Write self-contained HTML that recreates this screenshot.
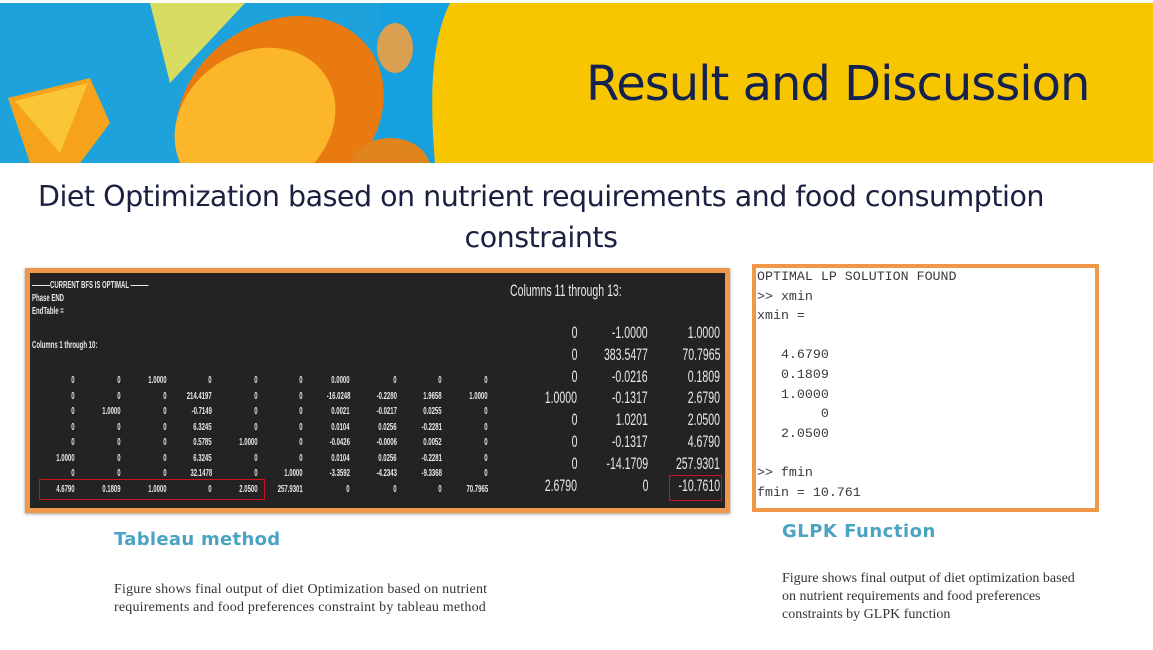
<!DOCTYPE html>
<html><head><meta charset="utf-8"><style>
*{margin:0;padding:0;box-sizing:border-box}
body{width:1153px;height:650px;background:#fff;position:relative;overflow:hidden;font-family:"Liberation Sans",sans-serif}
.abs{position:absolute}
.t{position:absolute;color:#e8e8e8;font-family:"Liberation Sans",sans-serif;white-space:nowrap;transform-origin:right center}
.small{font-size:10px;font-weight:bold;transform:scaleX(.6)}
.big{font-size:17px;transform:scaleX(.62)}
.g{position:absolute;left:757px;font-family:"Liberation Mono",monospace;font-size:13.3px;color:#3a3a3a;white-space:pre}
</style></head><body>
<div class="abs" style="left:0;top:3px;width:1153px;height:160px;background:#f8c600;overflow:hidden">
  <svg width="1153" height="160">
    <path d="M0 0 H445 C425 40 425 100 430 160 H0 Z" fill="#1ea2dc"/>
    <path d="M380 0 H450 C430 40 430 100 435 160 H380 Z" fill="#16a0e0"/>
    <path d="M150 0 H245 L170 80 Z" fill="#d8dc60"/>
    <path d="M8 95 L90 75 L110 120 L80 160 L30 160 Z" fill="#f6a21a"/>
    <path d="M15 98 L88 80 L60 150 Z" fill="#fbc636"/>
    <ellipse cx="280" cy="110" rx="110" ry="90" transform="rotate(-35 280 110)" fill="#e87a10"/>
    <ellipse cx="255" cy="120" rx="85" ry="70" transform="rotate(-35 255 120)" fill="#fbb62a"/>
    <ellipse cx="390" cy="165" rx="40" ry="30" fill="#e0841c"/>
    <ellipse cx="395" cy="45" rx="18" ry="25" fill="#d8a050"/>
  </svg>
  <div class="abs" style="left:586px;top:53px;font-size:48px;color:#14224f;font-family:'DejaVu Sans','Liberation Sans',sans-serif;letter-spacing:-1px">Result and Discussion</div>
</div>
<div class="abs" style="left:0px;top:176px;width:1082px;text-align:center;font-size:28.5px;line-height:41px;color:#1a2140;font-family:'DejaVu Sans','Liberation Sans',sans-serif;letter-spacing:-.5px">Diet Optimization based on nutrient requirements and food consumption<br>constraints</div>

<div class="abs" id="tab" style="left:25px;top:268px;width:705px;height:245px;background:#232323;border:5px solid #f0974a;box-shadow:0 1px 3px #999"></div>

<div class="abs" style="left:752px;top:264px;width:347px;height:248px;background:#fff;border:4px solid #f0974a"></div>
<div class="g" style="top:269px">OPTIMAL LP SOLUTION FOUND</div>
<div class="g" style="top:289px">&gt;&gt; xmin</div>
<div class="g" style="top:308px">xmin =</div>
<div class="g" style="top:347px">   4.6790</div>
<div class="g" style="top:367px">   0.1809</div>
<div class="g" style="top:387px">   1.0000</div>
<div class="g" style="top:406px">        0</div>
<div class="g" style="top:426px">   2.0500</div>
<div class="g" style="top:465px">&gt;&gt; fmin</div>
<div class="g" style="top:485px">fmin = 10.761</div>

<div class="abs" style="left:114px;top:529px;font-size:18px;font-weight:bold;color:#4ba3c3;font-family:'DejaVu Sans',sans-serif;letter-spacing:.3px">Tableau method</div>
<div class="abs" style="left:782px;top:521px;font-size:18px;font-weight:bold;color:#4ba3c3;font-family:'DejaVu Sans',sans-serif;letter-spacing:.5px">GLPK Function</div>
<div class="abs" style="left:114px;top:581px;font-size:14px;line-height:18px;color:#333;font-family:'Liberation Serif',serif;letter-spacing:.2px">Figure shows final output of diet Optimization based on nutrient<br>requirements and food preferences constraint by tableau method</div>
<div class="abs" style="left:782px;top:570px;font-size:14px;line-height:18px;color:#333;font-family:'Liberation Serif',serif">Figure shows final output of diet optimization based<br>on nutrient requirements and food preferences<br>constraints by GLPK function</div>

<div class="abs" style="left:39px;top:479px;width:226px;height:21px;border:1.5px solid #d0101a"></div>
<div class="abs" style="left:669px;top:475px;width:53px;height:26px;border:1.5px solid #d0101a"></div>

<script>
const leftRows=[
["0","0","1.0000","0","0","0","0.0000","0","0","0"],
["0","0","0","214.4197","0","0","-16.0248","-0.2280","1.9658","1.0000"],
["0","1.0000","0","-0.7149","0","0","0.0021","-0.0217","0.0255","0"],
["0","0","0","6.3245","0","0","0.0104","0.0256","-0.2281","0"],
["0","0","0","0.5785","1.0000","0","-0.0426","-0.0006","0.0052","0"],
["1.0000","0","0","6.3245","0","0","0.0104","0.0256","-0.2281","0"],
["0","0","0","32.1478","0","1.0000","-3.3592","-4.2343","-9.3368","0"],
["4.6790","0.1809","1.0000","0","2.0500","257.9301","0","0","0","70.7965"]];
const rightRows=[
["0","-1.0000","1.0000"],["0","383.5477","70.7965"],["0","-0.0216","0.1809"],["1.0000","-0.1317","2.6790"],
["0","1.0201","2.0500"],["0","-0.1317","4.6790"],["0","-14.1709","257.9301"],["2.6790","0","-10.7610"]];
const leftX=[75,121,167,212,258,303,350,397,442,488];
const rightX=[577,648,720];
function put(txt,right,cy,cls,h){
  const d=document.createElement('div');
  d.className='t '+cls;
  d.textContent=txt;
  
  
  d.style.right=(1153-right)+'px';d.style.top=(cy-h/2)+'px';d.style.lineHeight=h+'px';
  document.body.appendChild(d);
}
leftRows.forEach((r,i)=>r.forEach((v,j)=>put(v,leftX[j],381+i*15.5,'small',12)));
rightRows.forEach((r,i)=>r.forEach((v,j)=>put(v,rightX[j],333+i*21.8,'big',20)));
function lbl(txt,x,y,cls,name){
  const d=document.createElement('div');
  d.className='t '+cls;d.textContent=txt;
  
  
  d.style.left=x+'px';d.style.top=y+'px';d.style.transformOrigin='left center';
  document.body.appendChild(d);
}
lbl('———CURRENT BFS IS OPTIMAL ———',32,280,'small','tableau-status');
lbl('Phase END',32,293,'small','tableau-phase');
lbl('EndTable =',32,306,'small','tableau-endtable');
lbl('Columns 1 through 10:',32,340,'small','tableau-columns-label');
lbl('Columns 11 through 13:',510,281,'big','tableau-columns-label-2');
</script>
</body></html>
